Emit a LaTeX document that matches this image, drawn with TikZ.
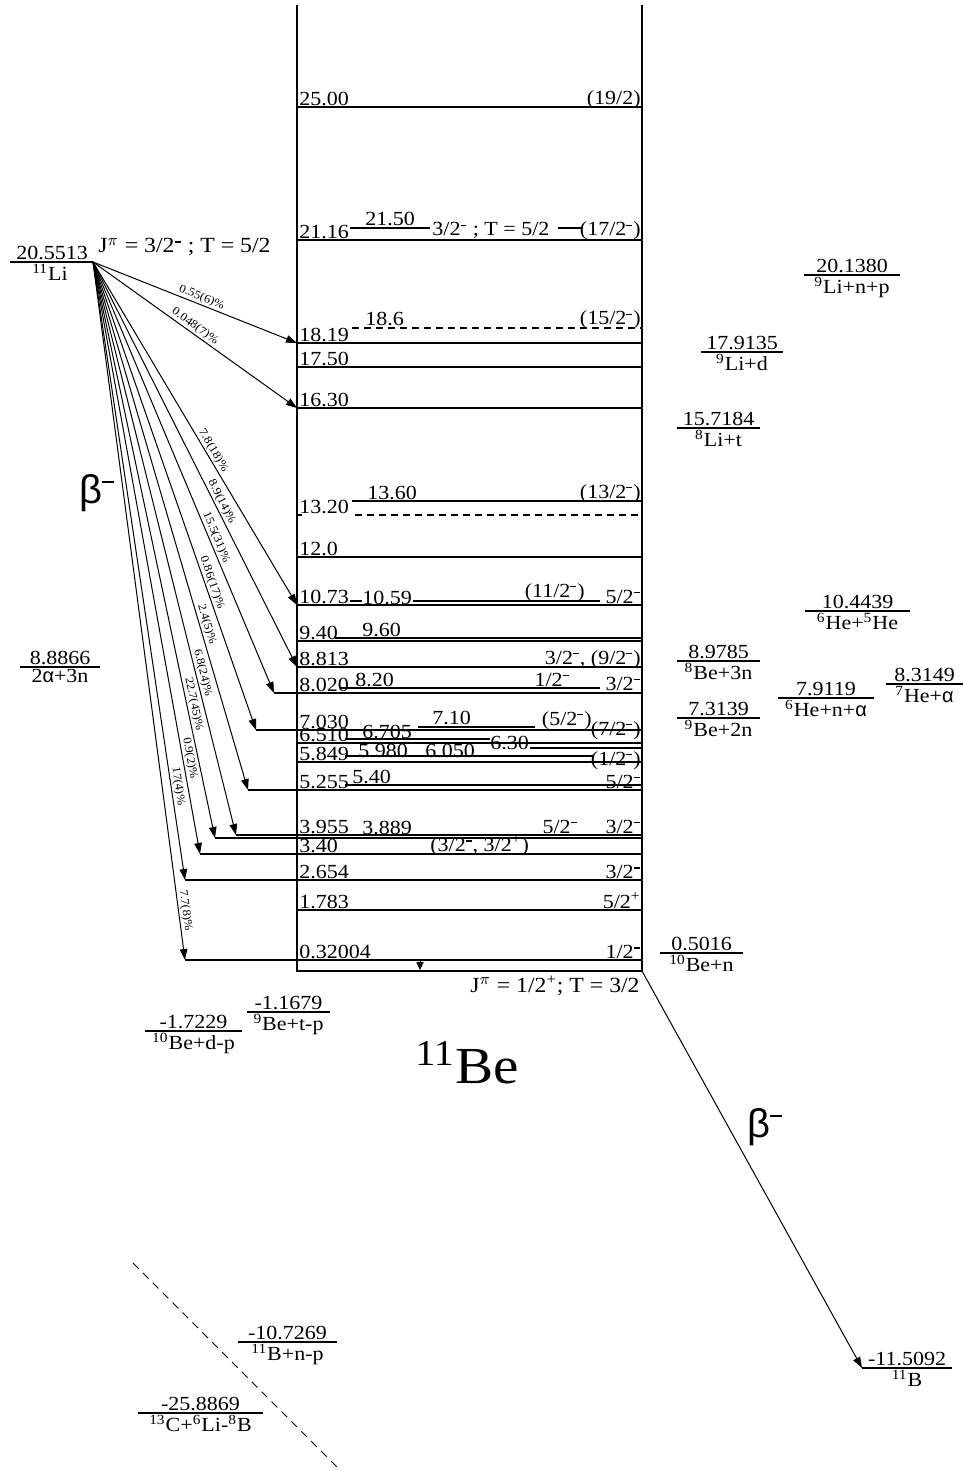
\documentclass[tikz,border=0pt]{standalone}
\usepackage{fontspec}
\setmainfont{Liberation Serif}[FakeStretch=1.1]
\newfontfamily\sansf{Liberation Sans}
\usetikzlibrary{arrows.meta}
\newcommand\mneg{\textsuperscript{\rule[0.35ex]{0.42em}{0.17ex}}}
\newcommand\mpos{\textsuperscript{+}}
\newcommand\pctfont{\fontsize{5.8}{6.2}\selectfont}
% level: name, y, xleft, label
\newcommand\lev[4]{\draw[lv] (#3,#2) coordinate (#1) -- (642,#2);
  \node[lt] (#1t) at (299,#2-1.5) {#4};}
% threshold: name, x1, x2, y, top, bottom
\newcommand\thr[6]{\draw[lv] (#2,#4) coordinate (#1a) -- (#3,#4) coordinate (#1b);
  \node[anchor=south,inner sep=1pt] (#1t) at ({(#2+#3)/2},#4) {#5};
  \node[anchor=north,inner sep=1pt] (#1u) at ({(#2+#3)/2},#4) {#6};}
\begin{document}
\begin{tikzpicture}[x=0.5pt,y=-0.5pt,font=\fontsize{10}{12}\selectfont,
  lv/.style={line width=0.6pt},
  seg/.style={line width=0.6pt},
  dsh/.style={line width=0.6pt,dash pattern=on 3.5pt off 2.5pt},
  arr/.style={line width=0.5pt,-{Triangle[length=5.5pt,width=3.8pt]}},
  lt/.style={anchor=base west,inner sep=0pt},
  rt/.style={anchor=base east,inner sep=0pt},
  it/.style={anchor=base west,inner sep=0pt},
  pct/.style={font=\pctfont,sloped,above,inner sep=0.6pt}]
\fill[white] (0,0) rectangle (964,1470);
\useasboundingbox (0,0) rectangle (964,1470);

% box
\draw[lv] (297,5) coordinate (bl) -- (297,971) coordinate (gl) -- (642,971) coordinate (gr) -- (642,5) coordinate (br);

% levels
\lev{l2500}{107}{297}{25.00}
\lev{l2116}{240}{297}{21.16}
\lev{l1819}{343}{297}{18.19}
\lev{l1750}{367}{297}{17.50}
\lev{l1630}{408}{297}{16.30}
\lev{l1200}{557}{297}{12.0}
\lev{l1073}{605}{297}{10.73}
\lev{l0940}{641}{297}{9.40}
\lev{l0881}{667}{297}{8.813}
\lev{l0802}{693}{274}{8.020}
\lev{l0703}{730}{256}{7.030}
\lev{l0651}{743}{297}{6.510}
\lev{l0585}{762}{297}{5.849}
\lev{l0526}{790}{248}{5.255}
\lev{l0396}{835}{236}{3.955}
\lev{l0389}{838}{215}{}
\lev{l0340}{854}{200}{3.40}
\lev{l0265}{880}{185}{2.654}
\lev{l0178}{910}{297}{1.783}
\lev{l0032}{960}{185}{0.32004}

% 13.20 dashed level
\draw[seg] (297,515) coordinate (l1320) -- (302,515);
\draw[dsh] (355,515) -- (640,515);
\node[lt] (l1320t) at (299,513.5) {13.20};

% inner (secondary) levels
\draw[seg] (350,228) -- (430,228);
\draw[seg] (558,228) -- (583,228);
\node[it] (l2150t) at (365,226) {21.50};
\node[it] (l2116j) at (432,236) {3/2\mneg\ ; T = 5/2};
\draw[dsh] (352,328) -- (642,328);
\node[it] (l1860t) at (365,326) {18.6};
\draw[seg] (352,501) -- (642,501);
\node[it] (l1360t) at (367,499) {13.60};
\draw[seg] (350,601) -- (362,601);
\draw[seg] (413,601) -- (600,601);
\node[it] (l1059t) at (362,604) {10.59};
\draw[seg] (335,638) -- (642,638);
\node[it] (l0960t) at (362,636) {9.60};
\draw[seg] (340,688) -- (600,688);
\node[it] (l0820t) at (355,686) {8.20};
\draw[seg] (418,727) -- (535,727);
\node[it] (l0710t) at (432,724) {7.10};
\draw[seg] (345,739) -- (490,739);
\node[it] (l0670t) at (362,738) {6.705};
\draw[seg] (530,748) -- (642,748);
\node[it] (l0630t) at (490,749) {6.30};
\draw[seg] (345,756) -- (593,756);
\node[it] (l0598t) at (358,757) {5.980};
\node[it] (l0605t) at (425,757) {6.050};
\draw[seg] (345,785) -- (642,785);
\node[it] (l0540t) at (352,783) {5.40};
\node[it] (l0389t) at (362,834) {3.889};
% ground state
\draw[-{Triangle[length=4pt,width=3.6pt]},line width=0.5pt] (420,961) -- (420,970);
\node[anchor=north east,inner sep=0pt,font=\fontsize{10.8}{12}\selectfont] (gsj) at (640,976) {J\textsuperscript{$\pi$} = 1/2\mpos; T = 3/2};

% spins (right)
\node[rt] (s2500) at (641,105) {(19/2)};
\node[rt] (s2116) at (641,236) {(17/2\mneg)};
\node[rt] (s1860) at (641,325) {(15/2\mneg)};
\node[rt] (s1360) at (641,498) {(13/2\mneg)};
\node[rt] (s1059a) at (641,603) {5/2\mneg};
\node[rt] (s1059b) at (585,597) {(11/2\mneg)};
\node[rt] (s0881) at (641,664) {3/2\mneg, (9/2\mneg)};
\node[rt] (s0802) at (641,690) {3/2\mneg};
\node[rt] (s0820) at (570,686) {1/2\mneg};
\node[rt] (s0703) at (641,735) {(7/2\mneg)};
\node[rt] (s0710) at (592,725) {(5/2\mneg)};
\node[rt] (s0585) at (641,765) {(1/2\mneg)};
\node[rt] (s0526) at (641,788) {5/2\mneg};
\node[rt] (s0396) at (641,833) {3/2\mneg};
\node[rt] (s0389) at (578,833) {5/2\mneg};
\node[it] (s0340) at (430,851) {(3/2\mneg, 3/2\mpos)};
\node[rt] (s0265) at (641,878) {3/2\mneg};
\node[rt] (s0178) at (641,908) {5/2\mpos};
\node[rt] (s0032) at (641,958) {1/2\mneg};

% 11Li parent
\draw[lv] (10,262) -- (93,262) coordinate (Li);
\node[anchor=south,inner sep=1pt] (Lit) at (52,262) {20.5513};
\node[anchor=north,inner sep=1pt] (Liu) at (50,262) {\textsuperscript{11}Li};
\node[anchor=base west,inner sep=0pt,font=\fontsize{10.8}{12}\selectfont] (Lij) at (98,253) {J\textsuperscript{$\pi$} = 3/2\mneg\ ; T = 5/2};
\node (bL) at (97,493) {\sansf\fontsize{20}{22}\selectfont β\textsuperscript{\rule[0.35ex]{0.42em}{0.17ex}}};

% beta feeding arrows
\draw[arr] (Li) -- (l1819) node[pct,pos=.52] {0.55(6)\%};
\draw[arr] (Li) -- (l1630) node[pct,pos=.48] {0.048(7)\%};
\draw[arr] (Li) -- (l1073) node[pct,pos=.56] {7.8(18)\%};
\draw[arr] (Li) -- (l0881) node[pct,pos=.60] {8.9(14)\%};
\draw[arr] (Li) -- (l0802) node[pct,pos=.645] {15.5(31)\%};
\draw[arr] (Li) -- (l0703) node[pct,pos=.69] {0.86(17)\%};
\draw[arr] (Li) -- (l0526) node[pct,pos=.69] {2.4(5)\%};
\draw[arr] (Li) -- (l0396) node[pct,pos=.72] {6.8(24)\%};
\draw[arr] (Li) -- (l0389) node[pct,pos=.77] {22.7(45)\%};
\draw[arr] (Li) -- (l0340) node[pct,pos=.84] {0.9(2)\%};
\draw[arr] (Li) -- (l0265) node[pct,pos=.85] {17(4)\%};
\draw[arr] (Li) -- (l0032) node[pct,pos=.93] {7.7(8)\%};

% thresholds
\thr{t1}{20}{100}{667}{8.8866}{2{\sansf α}+3n}
\thr{t2}{804}{900}{275}{20.1380}{\textsuperscript{9}Li+n+p}
\thr{t3}{701}{783}{352}{17.9135}{\textsuperscript{9}Li+d}
\thr{t4}{677}{760}{428}{15.7184}{\textsuperscript{8}Li+t}
\thr{t5}{805}{910}{611}{10.4439}{\textsuperscript{6}He+\textsuperscript{5}He}
\thr{t6}{677}{760}{661}{8.9785}{\textsuperscript{8}Be+3n}
\thr{t7}{677}{760}{718}{7.3139}{\textsuperscript{9}Be+2n}
\thr{t8}{778}{874}{698}{7.9119}{\textsuperscript{6}He+n+{\sansf α}}
\thr{t9}{886}{963}{684}{8.3149}{\textsuperscript{7}He+{\sansf α}}
\thr{t10}{660}{743}{953}{0.5016}{\textsuperscript{10}Be+n}
\thr{t11}{247}{330}{1012}{-1.1679}{\textsuperscript{9}Be+t-p}
\thr{t12}{145}{242}{1031}{-1.7229}{\textsuperscript{10}Be+d-p}
\thr{t13}{238}{337}{1342}{-10.7269}{\textsuperscript{11}B+n-p}
\thr{t14}{138}{263}{1413}{-25.8869}{\textsuperscript{13}C+\textsuperscript{6}Li-\textsuperscript{8}B}
\thr{t15}{862}{952}{1368}{-11.5092}{\textsuperscript{11}B}

% beta to 11B
\draw[arr] (gr) -- (t15a);
\node (bR) at (765,1127) {\sansf\fontsize{20}{22}\selectfont β\textsuperscript{\rule[0.35ex]{0.42em}{0.17ex}}};

% dashed diagonal
\draw[line width=0.5pt,dash pattern=on 4pt off 3pt] (133,1263) coordinate (d1) -- (340,1470) coordinate (d2);

% nucleus label
\node (Be) at (467,1063) {\fontsize{26}{30}\selectfont\textsuperscript{11}Be};
\end{tikzpicture}
\end{document}
